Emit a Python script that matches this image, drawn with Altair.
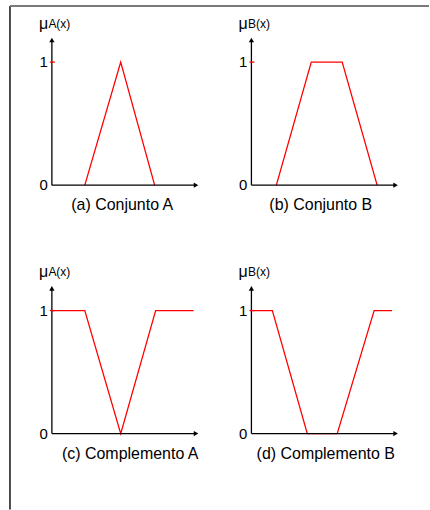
import altair as alt
import pandas as pd

# Membership functions (x in plot units, y = membership degree)
a_x = [33, 69, 103]
a_y = [0, 1, 0]
b_x = [25, 60, 91, 126]
b_y = [0, 1, 1, 0]
ca_x = [0, 33, 69, 104, 142]
ca_y = [1, 1, 0, 1, 1]
cb_x = [0, 21, 56, 86, 123, 141]
cb_y = [1, 1, 0, 0, 1, 1]

titles = ["(a) Conjunto A", "(b) Conjunto B", "(c) Complemento A", "(d) Complemento B"]
subs = ["A(x)", "B(x)", "A(x)", "B(x)"]
tick_values = [0, 1]

FONT = "Liberation Sans"
RED = "#ff0000"
W, H = 148, 148
X_END = 147
Y_TOP = 1.2


def sx():
    return alt.Scale(domain=[0, W], nice=False, zero=False)


def sy():
    return alt.Scale(domain=[0, Y_TOP], nice=False, zero=False)


def panel(x, y, sub, title, title_x, frame=False):
    curve = alt.Chart(pd.DataFrame({"x": x, "y": y})).mark_line(
        color=RED, strokeWidth=1.3
    ).encode(
        x=alt.X("x:Q", scale=sx(), axis=None),
        y=alt.Y("y:Q", scale=sy(), axis=None),
    )
    # axis lines: horizontal and vertical segments
    segs = pd.DataFrame({
        "x": [0, 0], "x2": [X_END - 3, 0],
        "y": [0, 0], "y2": [0, Y_TOP - 0.03],
    })
    axes = alt.Chart(segs).mark_rule(color="black", strokeWidth=1.3).encode(
        x=alt.X("x:Q", scale=sx(), axis=None), x2="x2:Q",
        y=alt.Y("y:Q", scale=sy(), axis=None), y2="y2:Q",
    )
    heads = pd.DataFrame({
        "x": [X_END - 2.5, 0], "y": [0, Y_TOP - 0.02],
        "s": ["triangle-right", "triangle-up"],
    })
    arrows = alt.Chart(heads).mark_point(filled=True, color="black", size=28, opacity=1).encode(
        x=alt.X("x:Q", scale=sx(), axis=None),
        y=alt.Y("y:Q", scale=sy(), axis=None),
        shape=alt.Shape("s:N", scale=alt.Scale(domain=["triangle-right", "triangle-up"],
                                               range=["triangle-right", "triangle-up"]),
                        legend=None),
    )
    tick = alt.Chart(pd.DataFrame({"x": [-2], "x2": [3], "y": [1]})).mark_rule(
        color=RED, strokeWidth=1.3
    ).encode(
        x=alt.X("x:Q", scale=sx(), axis=None), x2="x2:Q",
        y=alt.Y("y:Q", scale=sy(), axis=None),
    )
    ticks = alt.Chart(pd.DataFrame({"x": [0, 0], "v": tick_values})).mark_text(
        font=FONT, fontSize=15, align="right", baseline="middle", dx=-4, color="black"
    ).encode(
        x=alt.X("x:Q", scale=sx(), axis=None),
        y=alt.Y("v:Q", scale=sy(), axis=None),
        text=alt.Text("v:Q"),
    )
    top = pd.DataFrame({"x": [0], "y": [Y_TOP]})
    mu = alt.Chart(top).mark_text(
        font=FONT, fontSize=16, align="left", baseline="alphabetic",
        dx=-13, dy=-9, color="black", text="μ"
    ).encode(x=alt.X("x:Q", scale=sx(), axis=None), y=alt.Y("y:Q", scale=sy(), axis=None))
    mu_sub = alt.Chart(top).mark_text(
        font=FONT, fontSize=12, align="left", baseline="alphabetic",
        dx=-3.5, dy=-9.5, color="black", text=sub
    ).encode(x=alt.X("x:Q", scale=sx(), axis=None), y=alt.Y("y:Q", scale=sy(), axis=None))
    label = alt.Chart(pd.DataFrame({"x": [title_x], "y": [0]})).mark_text(
        font=FONT, fontSize=16, align="center", baseline="alphabetic",
        dy=25, color="black", text=title
    ).encode(x=alt.X("x:Q", scale=sx(), axis=None), y=alt.Y("y:Q", scale=sy(), axis=None))

    layers = [curve, axes, arrows, tick, ticks, mu, mu_sub, label]
    if frame:
        dummy = pd.DataFrame({"k": [0]})
        left_line = alt.Chart(dummy).mark_rule(color="black", strokeWidth=1.4).encode(
            x=alt.value(-42), y=alt.value(-31.5), y2=alt.value(473)
        )
        top_line = alt.Chart(dummy).mark_rule(color="#7a7a7a", strokeWidth=2).encode(
            x=alt.value(-42), x2=alt.value(378), y=alt.value(-31.5)
        )
        layers = [left_line, top_line] + layers
    return alt.layer(*layers).properties(width=W, height=H)


pa = panel(a_x, a_y, subs[0], titles[0], 70.5, frame=True)
pb = panel(b_x, b_y, subs[1], titles[1], 69.5)
pc = panel(ca_x, ca_y, subs[2], titles[2], 78.5)
pd_ = panel(cb_x, cb_y, subs[3], titles[3], 74.5)

chart = alt.concat(
    pa, pb, pc, pd_,
    columns=2,
    spacing=alt.RowColnumber(row=101, column=52),
    bounds="flush",
).properties(
    padding={"left": 9, "top": 4, "right": 0, "bottom": 0},
    background="white",
).configure_view(stroke=None)

chart.save("out.html", embed_options={"renderer": "svg", "actions": False})
